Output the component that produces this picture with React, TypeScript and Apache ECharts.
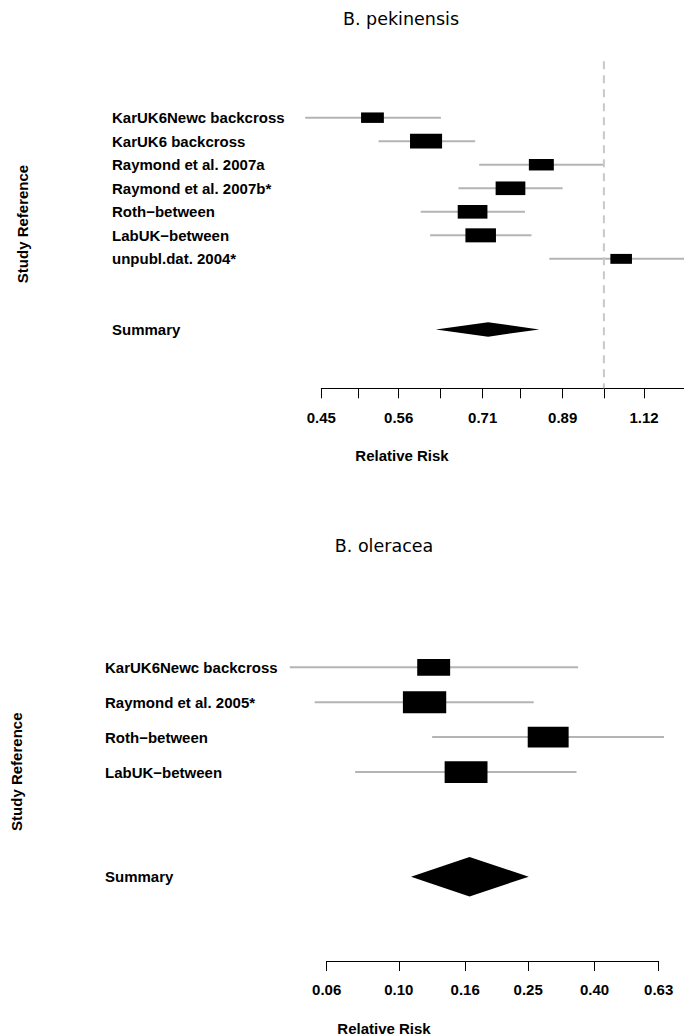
import React, { useEffect, useRef } from "react";
import * as echarts from "echarts";

// ---------- data: B. pekinensis ----------
const topStudies = [
  "KarUK6Newc backcross",
  "KarUK6 backcross",
  "Raymond et al. 2007a",
  "Raymond et al. 2007b*",
  "Roth\u2212between",
  "LabUK\u2212between",
  "unpubl.dat. 2004*",
];
const topEstimate = [0.520, 0.605, 0.838, 0.768, 0.690, 0.706, 1.050];
const topLower = [0.430, 0.529, 0.703, 0.663, 0.596, 0.612, 0.857];
const topUpper = [0.631, 0.695, 0.998, 0.890, 0.800, 0.815, 1.285];
const topSummary = [0.622, 0.721, 0.833]; // lower, estimate, upper
const topTicks = [0.45, 0.5, 0.56, 0.63, 0.71, 0.79, 0.89, 1.0, 1.12];
const topTickLabels = [0.45, 0.56, 0.71, 0.89, 1.12];
const topRange = [0.45, 1.254];

// ---------- data: B. oleracea ----------
const botStudies = [
  "KarUK6Newc backcross",
  "Raymond et al. 2005*",
  "Roth\u2212between",
  "LabUK\u2212between",
];
const botEstimate = [0.128, 0.120, 0.288, 0.161];
const botLower = [0.0462, 0.0551, 0.1266, 0.0734];
const botUpper = [0.356, 0.260, 0.654, 0.352];
const botSummary = [0.109, 0.165, 0.251];
const botTicks = [0.06, 0.1, 0.16, 0.25, 0.4, 0.63];
const botTickLabels = [0.06, 0.1, 0.16, 0.25, 0.4, 0.63];
const botRange = [0.06, 0.63];

const lg = (v: number) => Math.log10(v);
const LABEL_FONT = "'Liberation Sans', Arial, Helvetica, sans-serif";
const TITLE_FONT = "'DejaVu Sans', sans-serif";
const CI_COLOR = "#b4b4b4";

function studyData(est: number[], lo: number[], hi: number[], boxMax: number) {
  const halves = lo.map((l, i) => (lg(hi[i]) - lg(l)) / 2);
  const minHalf = Math.min(...halves);
  return est.map((e, i) => [lg(e), lg(lo[i]), lg(hi[i]), i, (boxMax * minHalf) / halves[i]]);
}

function studySeries(idx: number, data: number[][], aspect: number) {
  return {
    type: "custom",
    xAxisIndex: idx,
    yAxisIndex: idx,
    clip: false,
    silent: true,
    encode: { x: [0, 1, 2], y: 3 },
    data,
    renderItem: (_p: any, api: any) => {
      const est = api.value(0);
      const lo = api.value(1);
      const hi = api.value(2);
      const row = api.value(3);
      const size = api.value(4);
      const pLo = api.coord([lo, row]);
      const pHi = api.coord([hi, row]);
      const pE = api.coord([est, row]);
      const rowPx = Math.abs(api.size([0, 1])[1]);
      const h = size * rowPx;
      const w = h * aspect;
      return {
        type: "group",
        children: [
          {
            type: "line",
            shape: { x1: pLo[0], y1: pLo[1], x2: pHi[0], y2: pHi[1] },
            style: { stroke: CI_COLOR, lineWidth: 2 },
          },
          {
            type: "rect",
            shape: { x: pE[0] - w / 2, y: pE[1] - h / 2, width: w, height: h },
            style: { fill: "#000" },
          },
        ],
      };
    },
  };
}

function summarySeries(idx: number, summary: number[], row: number, halfH: number) {
  return {
    type: "custom",
    xAxisIndex: idx,
    yAxisIndex: idx,
    clip: false,
    silent: true,
    encode: { x: [0, 1, 2], y: 3 },
    data: [[lg(summary[0]), lg(summary[1]), lg(summary[2]), row]],
    renderItem: (_p: any, api: any) => {
      const r = api.value(3);
      const pLo = api.coord([api.value(0), r]);
      const pE = api.coord([api.value(1), r]);
      const pHi = api.coord([api.value(2), r]);
      const rowPx = Math.abs(api.size([0, 1])[1]);
      const hh = halfH * rowPx;
      return {
        type: "polygon",
        shape: {
          points: [
            [pLo[0], pLo[1]],
            [pE[0], pE[1] - hh],
            [pHi[0], pHi[1]],
            [pE[0], pE[1] + hh],
          ],
        },
        style: { fill: "#000" },
      };
    },
  };
}

function xAxis(idx: number, range: number[], ticks: number[], labels: number[], margin: number) {
  return {
    type: "value",
    gridIndex: idx,
    position: "bottom",
    min: lg(range[0]),
    max: lg(range[1]),
    splitLine: { show: false },
    axisLine: { show: true, onZero: false, lineStyle: { color: "#000", width: 1 } },
    axisTick: {
      show: true,
      customValues: ticks.map(lg),
      length: 10,
      lineStyle: { color: "#000", width: 1 },
    },
    axisLabel: {
      customValues: labels.map(lg),
      formatter: (v: number) => Math.pow(10, v).toFixed(2),
      fontFamily: LABEL_FONT,
      fontWeight: "bold",
      fontSize: 15,
      color: "#000",
      margin,
      verticalAlign: "middle",
    },
  };
}

function yAxis(idx: number, names: string[], min: number, max: number, margin: number) {
  const rows = names.map((_, i) => i).concat([names.length + 2]);
  return {
    type: "value",
    gridIndex: idx,
    min,
    max,
    inverse: true,
    splitLine: { show: false },
    axisLine: { show: false, onZero: false },
    axisTick: { show: false },
    axisLabel: {
      customValues: rows,
      formatter: (v: number) => (v < names.length ? names[Math.round(v)] : "Summary"),
      align: "left",
      verticalAlign: "middle",
      margin,
      fontFamily: LABEL_FONT,
      fontWeight: "bold",
      fontSize: 15,
      color: "#000",
    },
  };
}

function txt(text: string, x: number, y: number, font: string, size: number, weight: string, rotation = 0) {
  return {
    type: "text",
    x,
    y,
    rotation,
    silent: true,
    style: {
      text,
      fontFamily: font,
      fontSize: size,
      fontWeight: weight,
      fill: "#000",
      align: "center",
      verticalAlign: "middle",
    },
  };
}

export default function App() {
  const ref = useRef<HTMLDivElement>(null);
  useEffect(() => {
    if (!ref.current) return;
    const chart = echarts.init(ref.current, null, { renderer: "svg" });
    const topMin = -2.4;
    const topMax = 11.5;
    const option = {
      animation: false,
      backgroundColor: "#fff",
      grid: [
        { left: 321.3, right: 0, top: 61.2, bottom: 1036 - 388.3 },
        { left: 326.7, right: 684 - 658.7, top: 632.4, bottom: 1036 - 961 },
      ],
      xAxis: [
        xAxis(0, topRange, topTicks, topTickLabels, 29),
        xAxis(1, botRange, botTicks, botTickLabels, 28),
      ],
      yAxis: [
        yAxis(0, topStudies, topMin, topMax, 321.3 - 112),
        yAxis(1, botStudies, -1, 8.415, 326.7 - 105),
      ],
      series: [
        {
          type: "line",
          xAxisIndex: 0,
          yAxisIndex: 0,
          symbol: "none",
          silent: true,
          data: [
            [0, topMin],
            [0, topMax],
          ],
          lineStyle: { color: "#c8c8c8", width: 2, type: [8, 6] },
        },
        studySeries(0, studyData(topEstimate, topLower, topUpper, 0.625), 2.18),
        summarySeries(0, topSummary, topStudies.length + 2, 0.306),
        studySeries(1, studyData(botEstimate, botLower, botUpper, 0.63), 1.97),
        summarySeries(1, botSummary, botStudies.length + 2, 0.564),
      ],
      graphic: [
        txt("B. pekinensis", 401, 19, TITLE_FONT, 17.5, "normal"),
        txt("Relative Risk", 402, 455, LABEL_FONT, 15, "bold"),
        txt("Study Reference", 22.5, 224, LABEL_FONT, 15, "bold", Math.PI / 2),
        txt("B. oleracea", 384, 546, TITLE_FONT, 17.5, "normal"),
        txt("Relative Risk", 384, 1028, LABEL_FONT, 15, "bold"),
        txt("Study Reference", 16.5, 771.7, LABEL_FONT, 15, "bold", Math.PI / 2),
      ],
    };
    chart.setOption(option as any);
    return () => chart.dispose();
  }, []);
  return (
    <div
      ref={ref}
      style={{ position: "absolute", left: 0, top: 0, width: 684, height: 1036, background: "#fff" }}
    />
  );
}
